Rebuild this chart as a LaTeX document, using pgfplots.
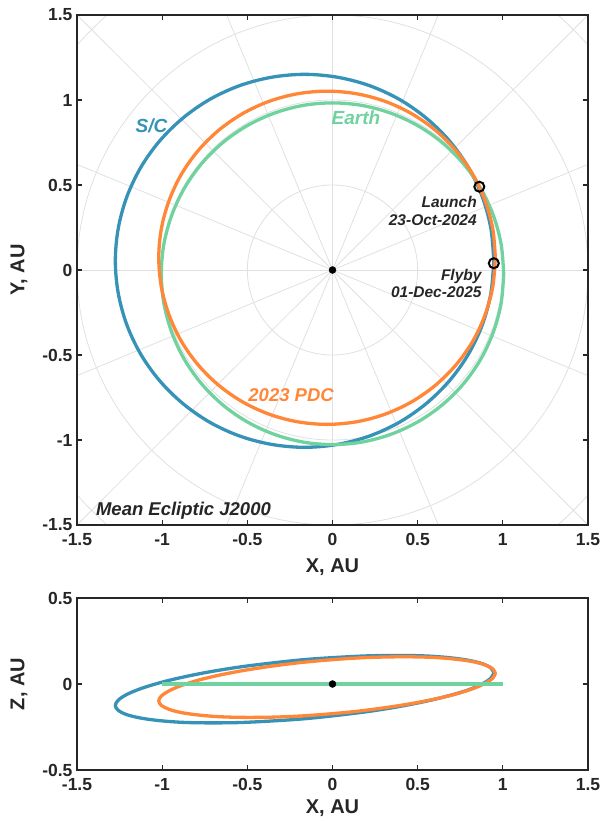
\documentclass[border=0pt]{standalone}
\usepackage{fontspec}
\setmainfont{Liberation Sans}
\usepackage{pgfplots}
\pgfplotsset{compat=1.18}

\definecolor{scblue}{RGB}{55,146,184}
\definecolor{pdcorange}{RGB}{255,135,55}
\definecolor{earthgreen}{RGB}{112,210,158}
\definecolor{gridgray}{RGB}{224,224,224}
\definecolor{inkgray}{RGB}{38,38,38}

\pgfplotsset{
  orbitaxis/.style={
    scale only axis, width=511pt,
    xmin=-1.5, xmax=1.5,
    xtick={-1.5,-1,-0.5,0,0.5,1,1.5},
    xticklabels={-1.5,-1,-0.5,0,0.5,1,1.5},
    tick align=inside, major tick length=5pt,
    axis line style={line width=1.5pt, draw=inkgray},
    tick style={line width=1.3pt, draw=inkgray},
    ticklabel style={font=\fontsize{17.5}{20}\selectfont\bfseries, text=inkgray},
    xticklabel style={yshift=-5pt},
    yticklabel style={xshift=-1pt},
    label style={font=\fontsize{20}{24}\selectfont\bfseries, text=inkgray},
    xlabel={X, AU}, xlabel shift=2pt, ylabel shift=8pt,
    axis on top,
  },
  orbit/.style={line width=3.3pt, smooth, tension=0.55, line join=round, line cap=round},
}

\begin{document}
\begin{tikzpicture}
\path[use as bounding box] (0pt,0pt) rectangle (604pt,-823pt);

% ---------------- ecliptic plane view ----------------
\begin{axis}[orbitaxis, at={(77pt,-15pt)}, anchor=north west, height=510pt,
  ymin=-1.5, ymax=1.5,
  ytick={-1.5,-1,-0.5,0,0.5,1,1.5},
  yticklabels={-1.5,-1,-0.5,0,0.5,1,1.5},
  ylabel={Y, AU}, xlabel shift=6pt]

% polar grid
\draw[gridgray, line width=0.8pt] (axis cs:0,0) circle[radius=0.5];
\draw[gridgray, line width=0.8pt] (axis cs:0,0) circle[radius=1];
\draw[gridgray, line width=0.8pt] (axis cs:0,0) circle[radius=1.5];
\draw[gridgray, line width=0.8pt] (axis cs:0,0) circle[radius=2];
\addplot[gridgray, line width=0.8pt, forget plot] coordinates {(-2.2,0) (2.2,0)};
\addplot[gridgray, line width=0.8pt, forget plot] coordinates {(-2.033,-0.842) (2.033,0.842)};
\addplot[gridgray, line width=0.8pt, forget plot] coordinates {(-1.556,-1.556) (1.556,1.556)};
\addplot[gridgray, line width=0.8pt, forget plot] coordinates {(-0.842,-2.033) (0.842,2.033)};
\addplot[gridgray, line width=0.8pt, forget plot] coordinates {(0,-2.2) (0,2.2)};
\addplot[gridgray, line width=0.8pt, forget plot] coordinates {(0.842,-2.033) (-0.842,2.033)};
\addplot[gridgray, line width=0.8pt, forget plot] coordinates {(1.556,-1.556) (-1.556,1.556)};
\addplot[gridgray, line width=0.8pt, forget plot] coordinates {(2.033,-0.842) (-2.033,0.842)};

% spacecraft transfer orbit
\addplot[orbit, scblue] coordinates {
(0.947,0.054) (0.930,0.244) (0.880,0.429) (0.798,0.603) (0.687,0.759) (0.550,0.894)
(0.392,1.004) (0.216,1.085) (0.029,1.134) (-0.164,1.151) (-0.357,1.134) (-0.544,1.085)
(-0.720,1.004) (-0.878,0.894) (-1.015,0.759) (-1.126,0.603) (-1.208,0.429) (-1.258,0.244)
(-1.275,0.054) (-1.258,-0.136) (-1.208,-0.321) (-1.126,-0.495) (-1.015,-0.651) (-0.878,-0.786)
(-0.720,-0.896) (-0.544,-0.977) (-0.357,-1.026) (-0.164,-1.043) (0.029,-1.026) (0.216,-0.977)
(0.392,-0.896) (0.550,-0.786) (0.687,-0.651) (0.798,-0.495) (0.880,-0.321) (0.930,-0.136)
(0.947,0.054)};

% Earth
\addplot[orbit, earthgreen] coordinates {
(1.005,-0.022) (0.990,0.152) (0.944,0.322) (0.870,0.481) (0.770,0.624) (0.646,0.748)
(0.503,0.848) (0.344,0.922) (0.174,0.968) (0,0.983) (-0.174,0.968) (-0.344,0.922)
(-0.503,0.848) (-0.646,0.748) (-0.770,0.624) (-0.870,0.481) (-0.944,0.322) (-0.990,0.152)
(-1.005,-0.022) (-0.990,-0.196) (-0.944,-0.366) (-0.870,-0.525) (-0.770,-0.668) (-0.646,-0.792)
(-0.503,-0.892) (-0.344,-0.966) (-0.174,-1.012) (0,-1.027) (0.174,-1.012) (0.344,-0.966)
(0.503,-0.892) (0.646,-0.792) (0.770,-0.668) (0.870,-0.525) (0.944,-0.366) (0.990,-0.196)
(1.005,-0.022)};

% 2023 PDC
\addplot[orbit, pdcorange] coordinates {
(0.956,0.072) (0.941,0.242) (0.896,0.407) (0.824,0.562) (0.725,0.702) (0.603,0.823)
(0.462,0.921) (0.306,0.993) (0.140,1.037) (-0.032,1.052) (-0.204,1.037) (-0.370,0.993)
(-0.526,0.921) (-0.667,0.823) (-0.789,0.702) (-0.888,0.562) (-0.960,0.407) (-1.005,0.242)
(-1.020,0.072) (-1.005,-0.098) (-0.960,-0.263) (-0.888,-0.418) (-0.789,-0.558) (-0.667,-0.679)
(-0.526,-0.777) (-0.370,-0.849) (-0.204,-0.893) (-0.032,-0.908) (0.140,-0.893) (0.306,-0.849)
(0.462,-0.777) (0.603,-0.679) (0.725,-0.558) (0.824,-0.418) (0.896,-0.263) (0.941,-0.098)
(0.956,0.072)};

% Sun
\addplot[only marks, mark=*, mark size=3.5pt, black] coordinates {(0,0)};
% launch and flyby events
\addplot[only marks, mark=o, mark size=5pt, mark options={line width=2pt, draw=black}]
  coordinates {(0.862,0.490) (0.947,0.040)};

\node[scblue, font=\fontsize{19}{22}\selectfont\bfseries\itshape] at (axis cs:-1.063,0.850) {S/C};
\node[earthgreen, font=\fontsize{19}{22}\selectfont\bfseries\itshape] at (axis cs:0.138,0.897) {Earth};
\node[pdcorange, font=\fontsize{18.5}{22}\selectfont\bfseries\itshape] at (axis cs:-0.243,-0.735) {2023 PDC};
\node[inkgray, anchor=east, align=right, inner sep=0pt,
      font=\fontsize{15.5}{18}\selectfont\bfseries\itshape] at (axis cs:0.848,0.348) {Launch\\23-Oct-2024};
\node[inkgray, anchor=east, align=right, inner sep=0pt,
      font=\fontsize{15.5}{17.5}\selectfont\bfseries\itshape] at (axis cs:0.876,-0.078) {Flyby\\01-Dec-2025};
\node[inkgray, font=\fontsize{18.5}{22}\selectfont\bfseries\itshape] at (axis cs:-0.875,-1.415) {Mean Ecliptic J2000};
\end{axis}

% ---------------- out-of-plane view ----------------
\begin{axis}[orbitaxis, at={(77pt,-598pt)}, anchor=north west, height=172pt,
  ymin=-0.5, ymax=0.5,
  ytick={-0.5,0,0.5},
  yticklabels={-0.5,0,0.5},
  ylabel={Z, AU}]

\addplot[orbit, scblue] coordinates {
(0.947,0.065) (0.930,0.093) (0.880,0.118) (0.798,0.138) (0.687,0.153) (0.550,0.163)
(0.392,0.166) (0.216,0.164) (0.029,0.155) (-0.164,0.142) (-0.357,0.122) (-0.544,0.099)
(-0.720,0.071) (-0.878,0.040) (-1.015,0.007) (-1.126,-0.027) (-1.208,-0.061) (-1.258,-0.094)
(-1.275,-0.125) (-1.258,-0.153) (-1.208,-0.178) (-1.126,-0.198) (-1.015,-0.213) (-0.878,-0.223)
(-0.720,-0.226) (-0.544,-0.224) (-0.357,-0.215) (-0.164,-0.202) (0.029,-0.182) (0.216,-0.159)
(0.392,-0.131) (0.550,-0.100) (0.687,-0.067) (0.798,-0.034) (0.880,0.001) (0.930,0.034)
(0.947,0.065)};

\addplot[orbit, pdcorange] coordinates {
(0.956,0.062) (0.941,0.088) (0.896,0.111) (0.824,0.130) (0.725,0.144) (0.603,0.154)
(0.462,0.158) (0.306,0.157) (0.140,0.151) (-0.032,0.139) (-0.204,0.123) (-0.370,0.102)
(-0.526,0.078) (-0.667,0.051) (-0.789,0.022) (-0.888,-0.009) (-0.960,-0.040) (-1.005,-0.070)
(-1.020,-0.098) (-1.005,-0.124) (-0.960,-0.147) (-0.888,-0.166) (-0.789,-0.180) (-0.667,-0.190)
(-0.526,-0.194) (-0.370,-0.193) (-0.204,-0.187) (-0.032,-0.175) (0.140,-0.159) (0.306,-0.138)
(0.462,-0.114) (0.603,-0.087) (0.725,-0.058) (0.824,-0.027) (0.896,0.004) (0.941,0.034)
(0.956,0.062)};

\addplot[line width=3.3pt, earthgreen] coordinates {(-1,0) (1,0)};

\addplot[only marks, mark=*, mark size=3.5pt, black] coordinates {(0,0)};
\end{axis}
\end{tikzpicture}
\end{document}
